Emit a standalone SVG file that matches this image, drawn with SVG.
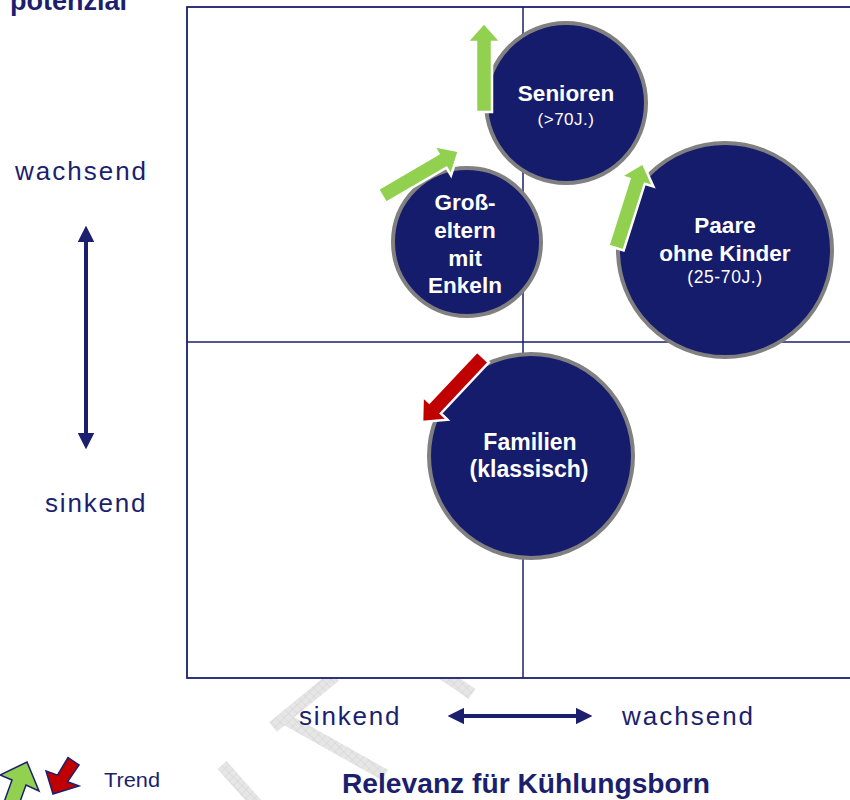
<svg xmlns="http://www.w3.org/2000/svg" width="850" height="800" viewBox="0 0 850 800">
<style>
.navy{fill:#1b1f6e}
.lbl{font-family:"Liberation Sans",Arial,sans-serif;fill:#1b1f6e}
.ct{font-family:"Liberation Sans",Arial,sans-serif;fill:#ffffff;text-anchor:middle}
.b{font-weight:bold}
.node circle{fill:#161c6c;stroke:#808080;stroke-width:4}
.wm{stroke:url(#hatch);stroke-width:12;fill:none}
.axis{stroke:#1b1f6e;stroke-width:4;fill:none}
</style>
<defs>
<pattern id="hatch" width="6" height="6" patternUnits="userSpaceOnUse" patternTransform="rotate(45)">
<rect width="6" height="6" fill="#e6e6e6"/>
<path d="M0 0H6M0 0V6" stroke="#d2d2d2" stroke-width="1"/>
</pattern>
<polygon id="arr" points="0,-8 70,-8 70,-17 89,0 70,17 70,8 0,8" stroke="#ffffff" stroke-width="2.5" stroke-linejoin="miter"/>
<marker id="ah" viewBox="0 0 10 10" refX="5" refY="5" markerWidth="4.2" markerHeight="4.2" orient="auto-start-reverse" markerUnits="strokeWidth">
<path d="M0 0L10 5L0 10z" fill="#1b1f6e"/>
</marker>
</defs>
<rect width="850" height="800" fill="#ffffff"/>
<g id="watermark">
<line class="wm" x1="273" y1="727" x2="335" y2="676"/>
<line class="wm" x1="280" y1="716" x2="385" y2="775"/>
<line class="wm" x1="440" y1="672" x2="472" y2="694"/>
<line class="wm" x1="222" y1="765" x2="262" y2="810"/>
</g>
<g id="chart">
<rect x="187" y="7" width="700" height="671" fill="#ffffff" stroke="#1b1f6e" stroke-width="1.8"/>
<line x1="523" y1="7" x2="523" y2="678" stroke="#1b1f6e" stroke-width="1.5"/>
<line x1="187" y1="342" x2="850" y2="342" stroke="#1b1f6e" stroke-width="1.5"/>
</g>
<g id="axes">
<text class="lbl b" x="10" y="10" font-size="27">potenzial</text>
<text class="lbl" x="15" y="180" font-size="26" letter-spacing="2">wachsend</text>
<text class="lbl" x="45" y="512" font-size="26" letter-spacing="1.8">sinkend</text>
<text class="lbl" x="299" y="725" font-size="26" letter-spacing="1.8">sinkend</text>
<text class="lbl" x="622" y="725" font-size="26" letter-spacing="2">wachsend</text>
<text class="lbl b" x="342" y="793" font-size="28" textLength="368" lengthAdjust="spacingAndGlyphs">Relevanz für Kühlungsborn</text>
</g>
<g id="connectors">
<line class="axis" x1="86" y1="234" x2="86" y2="441" marker-start="url(#ah)" marker-end="url(#ah)"/>
<line class="axis" x1="456" y1="716" x2="584" y2="716" marker-start="url(#ah)" marker-end="url(#ah)"/>
</g>
<g id="senioren" class="node">
<circle cx="566" cy="103" r="80"/>
<text class="ct b" x="566" y="101" font-size="22.5">Senioren</text>
<text class="ct" x="566" y="125" font-size="17" letter-spacing="0.5">(&gt;70J.)</text>
</g>
<g id="grosseltern" class="node">
<circle cx="467" cy="242" r="74"/>
<text class="ct b" x="465" y="210" font-size="22.5">Groß-</text>
<text class="ct b" x="465" y="238" font-size="22.5">eltern</text>
<text class="ct b" x="465" y="266" font-size="22.5">mit</text>
<text class="ct b" x="465" y="293" font-size="22.5">Enkeln</text>
</g>
<g id="paare" class="node">
<circle cx="725" cy="250" r="107"/>
<text class="ct b" x="725" y="233" font-size="22.5">Paare</text>
<text class="ct b" x="725" y="261" font-size="22.5">ohne Kinder</text>
<text class="ct" x="725" y="283" font-size="17.5" letter-spacing="0.6">(25-70J.)</text>
</g>
<g id="familien" class="node">
<circle cx="531" cy="456" r="102"/>
<text class="ct b" x="530" y="450" font-size="23">Familien</text>
<text class="ct b" x="529" y="477" font-size="23">(klassisch)</text>
</g>
<g id="trends">
<use href="#arr" fill="#92d050" transform="translate(484,112) rotate(-90)"/>
<use href="#arr" fill="#92d050" transform="translate(382,196) rotate(-30.3)"/>
<use href="#arr" fill="#92d050" transform="translate(616,248) rotate(-72.4)"/>
<use href="#arr" fill="#c00000" transform="translate(483,357) rotate(133.2)"/>
</g>
<g id="legend">
<polygon points="27,762 39,791 26,785 17,810 3,805 12,780 0,775" fill="#92d050" stroke="#1b1f6e" stroke-width="1.5" stroke-linejoin="miter"/>
<polygon points="53,794 79,786 67.5,781.8 79,765 68,757.5 57.5,775.2 46,771" fill="#c00000" stroke="#1b1f6e" stroke-width="1.5" stroke-linejoin="miter"/>
<text class="lbl" x="104" y="787" font-size="20" textLength="56" lengthAdjust="spacingAndGlyphs">Trend</text>
</g>
</svg>
